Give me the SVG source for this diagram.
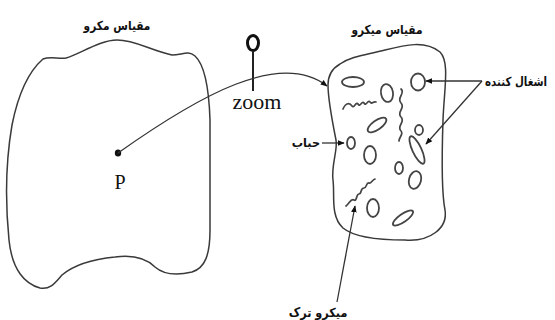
<svg xmlns="http://www.w3.org/2000/svg" width="555" height="320" viewBox="0 0 555 320">
  <style>
    .outline { fill: none; stroke: #3a3a3a; stroke-width: 1.5; stroke-linejoin: round; }
    .pore { fill: none; stroke: #444; stroke-width: 1.8; }
    .crack { fill: none; stroke: #444; stroke-width: 1.7; stroke-linecap: round; stroke-linejoin: round; }
    .lead { fill: none; stroke: #333; stroke-width: 1.3; }
    .fa { font-family: "DejaVu Sans", "Noto Sans", sans-serif; font-weight: bold; fill: #111; }
    .latin { font-family: "Liberation Serif", "DejaVu Serif", serif; fill: #111; }
  </style>
  <defs>
    <marker id="arrow" viewBox="0 0 10 10" refX="9" refY="5" markerWidth="7" markerHeight="7" orient="auto" markerUnits="userSpaceOnUse">
      <path d="M0,1 L10,5 L0,9 Z" fill="#111"/>
    </marker>
  </defs>
  <rect width="555" height="320" fill="#fff"/>

  <!-- macro-scale body with point P -->
  <g id="macro">
    <path class="outline" d="M43,59 C 50,56 58,59 66,58 C 80,54 100,40 117,40 C 135,40 150,50 172,55 C 182,55 188,50 195,56 C 205,65 209,90 210,120 L 210,230 C 210,255 205,268 192,272 C 175,276 163,274 155,267 C 145,257 130,255 115,257 C 95,259 75,264 62,275 C 55,283 50,290 40,288 C 25,284 12,270 9,240 C 5,200 6,160 12,125 C 18,95 28,72 43,59 Z"/>
    <text class="fa" font-size="12.5" text-anchor="middle" direction="rtl" transform="translate(117 30) scale(0.85 1)">مقیاس مکرو</text>
    <ellipse cx="118" cy="153" rx="3.2" ry="3.6" fill="#111"/>
    <text class="latin" x="120" y="189" font-size="20" text-anchor="middle">P</text>
  </g>

  <!-- zoom lens symbol -->
  <g id="zoom">
    <ellipse cx="253" cy="43" rx="5.5" ry="7.5" fill="none" stroke="#111" stroke-width="3"/>
    <line x1="253" y1="51" x2="253" y2="91" stroke="#222" stroke-width="2"/>
    <text class="latin" x="257" y="109" font-size="22" text-anchor="middle">zoom</text>
  </g>

  <!-- micro-scale body -->
  <g id="micro">
    <path class="outline" d="M340,64 C 352,56 366,55 385,50 C 405,45 425,40 440,52 C 450,62 444,90 443,120 C 442,150 441,190 445,210 C 448,228 430,242 405,240 C 380,240 355,238 343,228 C 330,216 335,195 333,180 C 331,165 338,150 336,140 C 333,125 328,100 328,85 C 328,75 333,68 340,64 Z"/>
    <text class="fa" font-size="12.5" text-anchor="middle" direction="rtl" transform="translate(387 34) scale(0.85 1)">مقیاس میکرو</text>
    <!-- pores and inclusions -->
    <ellipse class="pore" cx="353" cy="82" rx="11" ry="5"/>
    <ellipse class="pore" cx="387" cy="93" rx="6" ry="9" transform="rotate(-10 387 93)"/>
    <ellipse class="pore" cx="418" cy="82" rx="7" ry="8.5"/>
    <ellipse class="pore" cx="377" cy="125" rx="11" ry="4.5" transform="rotate(-35 377 125)"/>
    <ellipse class="pore" cx="351" cy="143" rx="4" ry="6"/>
    <ellipse class="pore" cx="370" cy="155" rx="6" ry="9"/>
    <ellipse class="pore" cx="419" cy="130" rx="4" ry="5"/>
    <ellipse class="pore" cx="417" cy="150" rx="4.5" ry="15" transform="rotate(-25 417 150)"/>
    <ellipse class="pore" cx="399" cy="168" rx="4" ry="6"/>
    <ellipse class="pore" cx="415" cy="180" rx="6" ry="9" transform="rotate(15 415 180)"/>
    <ellipse class="pore" cx="373" cy="208" rx="6" ry="9"/>
    <ellipse class="pore" cx="403" cy="218" rx="12" ry="4" transform="rotate(-35 403 218)"/>
    <!-- micro cracks -->
    <path class="crack" d="M343,109 C 346,102 350,103 352,106 C 354,109 356,101 358,104 C 360,108 362,100 364,103 C 366,107 368,99 370,102 C 372,105 373,101 376,102"/>
    <path class="crack" d="M401,89 C 406,93 396,98 401,103 C 406,108 396,112 401,117 C 406,122 396,126 401,131 C 404,134 399,137 399,141"/>
    <path class="crack" d="M346,206 C 349,204 351,198 354,200 C 357,202 356,194 359,194 C 362,194 360,188 364,188 C 367,188 366,182 369,183 C 371,184 372,180 375,179"/>
  </g>

  <!-- labels with leader lines -->
  <g id="label-inclusion">
    <text class="fa" font-size="12.5" text-anchor="start" direction="rtl" transform="translate(547 86) scale(0.82 1)">اشغال کننده</text>
  </g>
  <g id="label-bubble">
    <text class="fa" font-size="12.5" text-anchor="start" direction="rtl" transform="translate(320 147) scale(0.9 1)">حباب</text>
  </g>
  <g id="label-crack">
    <text class="fa" font-size="12.5" text-anchor="middle" direction="rtl" transform="translate(318 317) scale(0.9 1)">میکرو ترک</text>
  </g>

  <!-- connectors -->
  <g id="connectors">
    <path class="lead" stroke-width="1.6" d="M118,153 C 200,95 280,50 327,86" marker-end="url(#arrow)"/>
    <line class="lead" x1="482" y1="81" x2="426" y2="81" marker-end="url(#arrow)"/>
    <line class="lead" x1="482" y1="81" x2="426" y2="144" marker-end="url(#arrow)"/>
    <line class="lead" x1="322" y1="143" x2="344" y2="143" marker-end="url(#arrow)"/>
    <line class="lead" x1="337" y1="302" x2="355" y2="206" marker-end="url(#arrow)"/>
  </g>
</svg>
